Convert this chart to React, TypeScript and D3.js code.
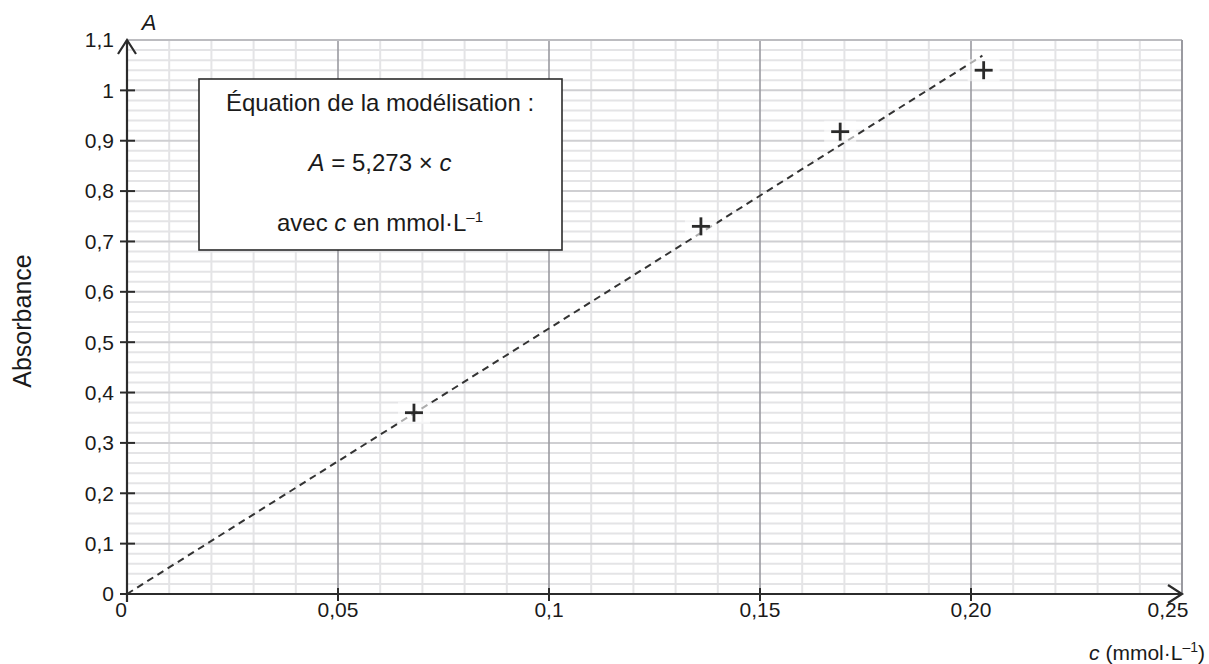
import * as d3 from 'd3';

const concentrations = [0.068, 0.136, 0.169, 0.203];
const absorbances = [0.36, 0.73, 0.918, 1.04];
const slope = 5.273;
const fitRange = [0, 0.2027];
const xTicks = [0, 0.05, 0.1, 0.15, 0.2, 0.25];
const xTickLabels = ['0', '0,05', '0,1', '0,15', '0,20', '0,25'];
const yTicks = [0, 0.1, 0.2, 0.3, 0.4, 0.5, 0.6, 0.7, 0.8, 0.9, 1, 1.1];
const yTickLabels = ['0', '0,1', '0,2', '0,3', '0,4', '0,5', '0,6', '0,7', '0,8', '0,9', '1', '1,1'];

const W = 1209;
const H = 664;
const font = '"Liberation Sans", Arial, sans-serif';
const ink = '#2b2b2b';
const textInk = '#1a1a1a';

export default function App() {
  const x = d3.scaleLinear().domain([0, 0.25]).range([127, 1182]);
  const y = d3.scaleLinear().domain([0, 1.1]).range([594, 40]);

  const minorX = d3.range(1, 25).map(i => i * 0.01).filter(v => Math.round(v * 100) % 5 !== 0);
  const minorY = d3.range(1, 55).map(i => i * 0.02).filter(v => Math.round(v * 100) % 10 !== 0);
  const majorX = [0.05, 0.1, 0.15, 0.2];
  const majorY = yTicks.slice(1, -1);

  const line = d3
    .line<number>()
    .x(c => x(c))
    .y(c => y(slope * c));

  const points = concentrations.map((c, i) => [c, absorbances[i]] as [number, number]);

  return (
    <svg width={W} height={H} style={{ position: 'absolute', left: 0, top: 0 }} fontFamily={font}>
      <rect width={W} height={H} fill="#fff" />
      {/* minor grid */}
      {minorX.map(v => (
        <line key={'mx' + v} x1={x(v)} x2={x(v)} y1={y(1.1)} y2={y(0)} stroke="#e4e4e6" strokeWidth={2} />
      ))}
      {minorY.map(v => (
        <line key={'my' + v} x1={x(0)} x2={x(0.25)} y1={y(v)} y2={y(v)} stroke="#e4e4e6" strokeWidth={2} />
      ))}
      {majorY.map(v => (
        <line key={'My' + v} x1={x(0)} x2={x(0.25)} y1={y(v)} y2={y(v)} stroke="#cfcfd2" strokeWidth={2} />
      ))}
      {majorX.map(v => (
        <line key={'Mx' + v} x1={x(v)} x2={x(v)} y1={y(1.1)} y2={y(0)} stroke="#9a9aa0" strokeWidth={1.6} />
      ))}
      {/* frame */}
      <line x1={x(0)} x2={x(0.25)} y1={y(1.1)} y2={y(1.1)} stroke="#bcbcc0" strokeWidth={2} />
      <line x1={x(0.25)} x2={x(0.25)} y1={y(1.1)} y2={y(0)} stroke="#9a9aa0" strokeWidth={2} />

      {/* fit line */}
      <path d={line(fitRange) ?? ''} fill="none" stroke="#333" strokeWidth={2} strokeDasharray="7,5" />

      {/* axes */}
      <line x1={x(0)} x2={x(0.25)} y1={y(0)} y2={y(0)} stroke={ink} strokeWidth={2.2} />
      <line x1={x(0)} x2={x(0)} y1={y(0) + 8} y2={y(1.1)} stroke={ink} strokeWidth={2.2} />
      <path
        d={`M${x(0.25) - 14},${y(0) - 9} L${x(0.25)},${y(0)} L${x(0.25) - 14},${y(0) + 9}`}
        fill="none"
        stroke={ink}
        strokeWidth={2.2}
      />
      <path
        d={`M${x(0) - 9},${y(1.1) + 14} L${x(0)},${y(1.1)} L${x(0) + 9},${y(1.1) + 14}`}
        fill="none"
        stroke={ink}
        strokeWidth={2.2}
      />

      {/* ticks */}
      {yTicks.map((v, i) => (
        <g key={'yt' + v}>
          {v < 1.1 && <line x1={x(0) - 7} x2={x(0) + 8} y1={y(v)} y2={y(v)} stroke={ink} strokeWidth={2} />}
          <text x={114} y={y(v)} dy="0.35em" textAnchor="end" fontSize={21} fill={textInk}>
            {yTickLabels[i]}
          </text>
        </g>
      ))}
      {xTicks.map((v, i) => (
        <g key={'xt' + v}>
          {v > 0 && v < 0.25 && (
            <line x1={x(v)} x2={x(v)} y1={y(0) - 6} y2={y(0) + 7} stroke={ink} strokeWidth={2} />
          )}
          <text
            x={i === xTicks.length - 1 ? x(v) - 14 : i === 0 ? x(v) - 6 : x(v)}
            y={617}
            textAnchor="middle"
            fontSize={21}
            fill={textInk}
          >
            {xTickLabels[i]}
          </text>
        </g>
      ))}

      {/* data points */}
      {points.map(([c, a]) => (
        <g key={'p' + c} transform={`translate(${x(c)},${y(a)})`}>
          <rect x={-16} y={-11} width={32} height={22} fill="#fff" opacity={0.6} />
          <line x1={-9} x2={9} y1={0} y2={0} stroke="#2a2a2a" strokeWidth={2.8} />
          <line x1={0} x2={0} y1={-9} y2={9} stroke="#2a2a2a" strokeWidth={2.8} />
        </g>
      ))}

      {/* axis labels */}
      <text x={149} y={30} fontSize={22} fontStyle="italic" textAnchor="middle" fill={textInk}>
        A
      </text>
      <text
        transform="translate(31,321) rotate(-90)"
        textAnchor="middle"
        fontSize={25}
        fill={textInk}
      >
        Absorbance
      </text>
      <text x={1205} y={660} textAnchor="end" fontSize={21} fill={textInk}>
        <tspan fontStyle="italic">c</tspan> (mmol·L
        <tspan dy={-8} fontSize={14}>–1</tspan>
        <tspan dy={8}>)</tspan>
      </text>

      {/* equation box */}
      <rect x={199} y={79} width={363} height={171} fill="#fff" stroke="#2b2b2b" strokeWidth={1.6} />
      <text x={380} y={111} textAnchor="middle" fontSize={24} fill={textInk}>
        Équation de la modélisation :
      </text>
      <text x={380} y={171} textAnchor="middle" fontSize={24} fill={textInk}>
        <tspan fontStyle="italic">A</tspan> = 5,273 × <tspan fontStyle="italic">c</tspan>
      </text>
      <text x={380} y={231} textAnchor="middle" fontSize={24} fill={textInk}>
        avec <tspan fontStyle="italic">c</tspan> en mmol·L
        <tspan dy={-9} fontSize={15}>–1</tspan>
      </text>
    </svg>
  );
}
